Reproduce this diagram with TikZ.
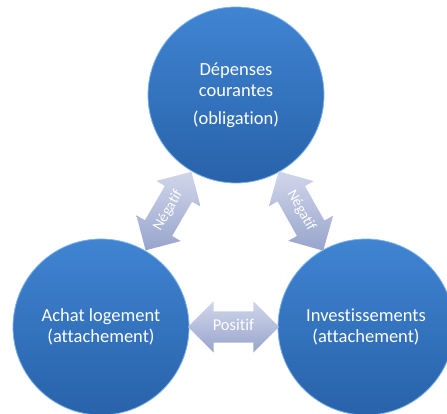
\documentclass[tikz,border=0pt]{standalone}
\usepackage{fontspec}
\setmainfont{Carlito}[Ligatures=NoCommon]
\usetikzlibrary{shapes.arrows}
\definecolor{bulhaut}{RGB}{64,132,210}
\definecolor{bulbas}{RGB}{40,98,170}
\definecolor{bulbord}{RGB}{125,180,235}
\definecolor{flhaut}{RGB}{208,214,234}
\definecolor{flbas}{RGB}{152,164,204}

\begin{document}
\begin{tikzpicture}[x=1pt,y=1pt,
    bulle/.style={circle,minimum size=176pt,inner sep=0pt,
        top color=bulhaut,bottom color=bulbas,draw=bulbord,line width=.8pt,
        text=white,align=center,font=\fontsize{18.5}{21}\selectfont},
    fleche/.style={double arrow,double arrow head extend=10pt,
        minimum height=91pt,inner xsep=2pt,inner ysep=8pt,
        text height=11pt,text depth=4pt,sloped,
        top color=flhaut,bottom color=flbas,text=white}]
    \useasboundingbox (0,0) rectangle (447,414);
    % les trois bulles
    \node[bulle] (dep) at (236,319) {Dépenses\\courantes\\[7pt](obligation)};
    \node[bulle] (ach) at (101,87) {Achat logement\\(attachement)};
    \node[bulle] (inv) at (366,87) {Investissements\\(attachement)};
    % les fleches
    \path (ach) -- node[fleche,font=\fontsize{15}{17}\selectfont] (neg1) {Négatif} (dep);
    \path (dep) -- node[fleche,font=\fontsize{15}{17}\selectfont] (neg2) {Négatif} (inv);
    \path (ach) -- node[fleche,font=\fontsize{16.5}{18}\selectfont] (pos) {Positif} (inv);
\end{tikzpicture}
\end{document}
